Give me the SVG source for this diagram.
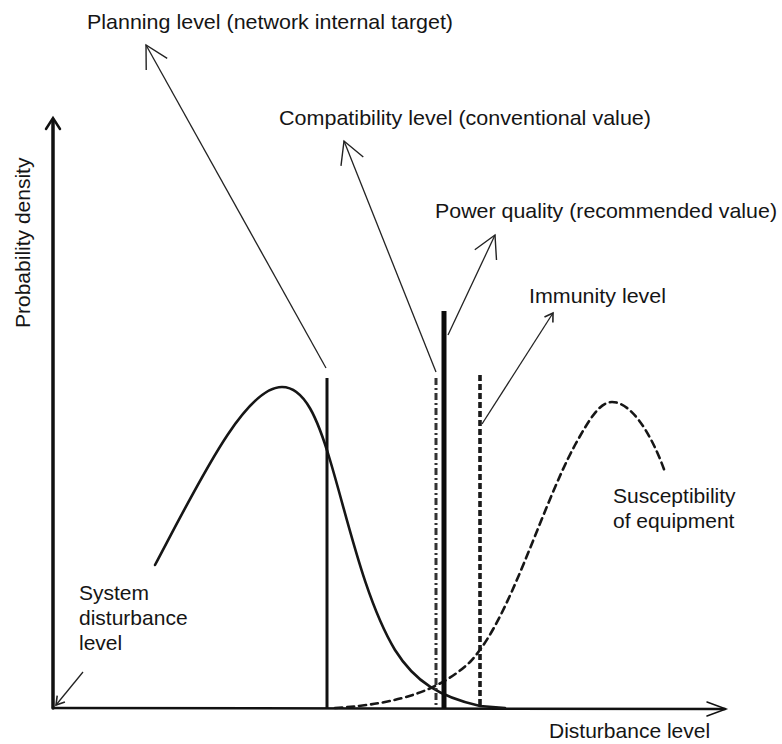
<svg xmlns="http://www.w3.org/2000/svg" width="782" height="744" viewBox="0 0 782 744">
<style>
text{font-family:"Liberation Sans",Arial,sans-serif;font-size:21px;fill:#151515}
.lead{fill:none;stroke:#222;stroke-width:1.3}
.curve{fill:none;stroke:#161616;stroke-width:2.6;stroke-linecap:round}
.axis{fill:none;stroke:#111;stroke-linecap:round}
</style>
<defs>
<marker id="arr" viewBox="-26 -16 30 32" markerWidth="30" markerHeight="32" refX="0" refY="0" orient="auto" markerUnits="userSpaceOnUse">
<path d="M-22,-12 L0,0 L-22,12" fill="none" stroke="#222" stroke-width="1.4"/>
</marker>
<marker id="arrs" viewBox="-12 -8 14 16" markerWidth="14" markerHeight="16" refX="0" refY="0" orient="auto" markerUnits="userSpaceOnUse">
<path d="M-8,-5 L0,0 L-8,5" fill="none" stroke="#222" stroke-width="1.6"/>
</marker>
</defs>
<rect width="782" height="744" fill="#fff"/>
<g id="axes">
<line class="axis" x1="53" y1="708" x2="53" y2="120" stroke-width="3.5"/>
<path class="axis" d="M46,129 L53,118 L60,129" stroke-width="2.5"/>
<line class="axis" x1="53" y1="708" x2="725" y2="709" stroke-width="2.5"/>
<path class="axis" d="M707,702 L726,709 L707,716" stroke-width="1.5"/>
<text id="y-label" transform="translate(30,328) rotate(-90)">Probability density</text>
<text id="x-label" x="549" y="738">Disturbance level</text>
</g>
<g id="system-disturbance-curve">
<path class="curve" d="M155,565 C200,480 245,387 282,387 C305,387 318,420 330,460 C348,520 365,600 395,650 C415,682 440,697 480,706 L505,708"/>
</g>
<g id="susceptibility-curve">
<path class="curve" stroke-width="2.8" stroke-dasharray="7 5" d="M335,708 C400,704 440,690 470,662 C510,620 540,510 575,445 C590,418 600,402 612,402 C630,402 650,430 665,472"/>
</g>
<g id="planning-level-line">
<line x1="327" y1="378" x2="327" y2="708" stroke="#111" stroke-width="3"/>
</g>
<g id="compatibility-level-line">
<line x1="436" y1="378" x2="436" y2="708" stroke="#333" stroke-width="3" stroke-dasharray="7 3 2 3"/>
</g>
<g id="power-quality-line">
<line x1="444" y1="311" x2="444" y2="708" stroke="#0c0c0c" stroke-width="5"/>
</g>
<g id="immunity-level-line">
<line x1="480" y1="375" x2="480" y2="708" stroke="#1a1a1a" stroke-width="3.6" stroke-dasharray="6 3"/>
</g>
<g id="connectors">
<line class="lead" x1="326" y1="368" x2="146" y2="45" marker-end="url(#arr)"/>
<line class="lead" x1="436" y1="372" x2="344" y2="141" marker-end="url(#arr)"/>
<line class="lead" x1="448" y1="335" x2="495" y2="235" marker-end="url(#arr)"/>
<line class="lead" x1="482" y1="424" x2="553" y2="313" marker-end="url(#arrs)"/>
<line class="lead" x1="83" y1="672" x2="56" y2="705" stroke-width="1.8" marker-end="url(#arrs)"/>
</g>
<g id="label-planning">
<text x="87" y="29" textLength="366" lengthAdjust="spacingAndGlyphs">Planning level (network internal target)</text>
</g>
<g id="label-compatibility">
<text x="279" y="125" textLength="372" lengthAdjust="spacingAndGlyphs">Compatibility level (conventional value)</text>
</g>
<g id="label-power-quality">
<text x="435" y="218" textLength="342" lengthAdjust="spacingAndGlyphs">Power quality (recommended value)</text>
</g>
<g id="label-immunity">
<text x="529" y="303" textLength="137" lengthAdjust="spacingAndGlyphs">Immunity level</text>
</g>
<g id="label-susceptibility">
<text x="613" y="503">Susceptibility</text>
<text x="613" y="528">of equipment</text>
</g>
<g id="label-system">
<text x="79" y="600">System</text>
<text x="79" y="625">disturbance</text>
<text x="79" y="650">level</text>
</g>
</svg>
